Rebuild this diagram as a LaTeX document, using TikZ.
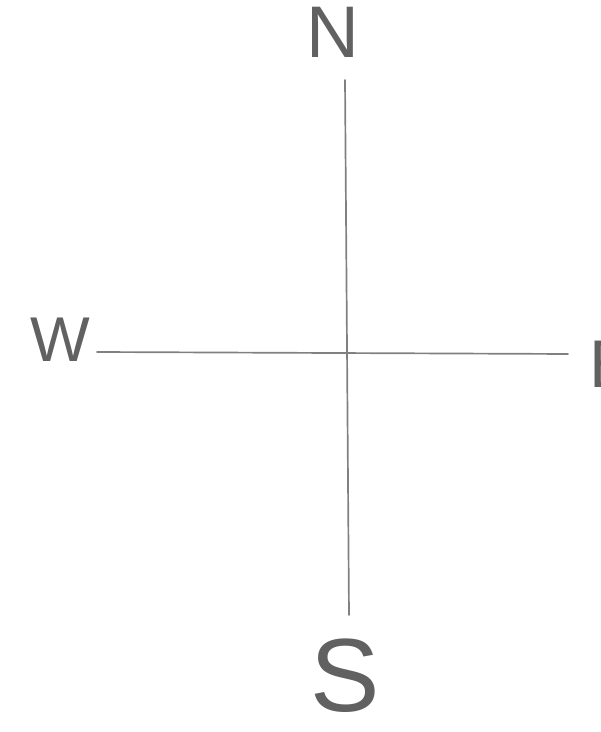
\documentclass[tikz,border=0pt]{standalone}
\usepackage{fontspec}
\setmainfont{Liberation Sans}
\usetikzlibrary{positioning}

\begin{document}
\begin{tikzpicture}[
    axis/.style={draw=black!50, line width=1.2pt, line cap=round},
    letter/.style={text=black!62, inner sep=0pt, anchor=center}
]

\useasboundingbox[fill=white] (0,0) rectangle (15,18.3);

% ends of the two strokes
\coordinate (top)    at (8.625,16.3);
\coordinate (bottom) at (8.725,2.925);
\coordinate (left)   at (2.425,9.5);
\coordinate (right)  at (14.2,9.45);

\node[letter, font=\fontsize{52}{52}\selectfont] (north) at (8.33,17.5) {N};
\node[letter, font=\fontsize{74}{74}\selectfont] (south) at (8.63,1.4) {S};
\node[letter, font=\fontsize{45}{45}\selectfont] (west)  at (1.5,9.8) {W};
\node[letter, font=\fontsize{48}{48}\selectfont, anchor=west] (east) at (14.72,9.2) {E};

\draw[axis] (top) -- (bottom);
\draw[axis] (left) -- (right);

\end{tikzpicture}
\end{document}
